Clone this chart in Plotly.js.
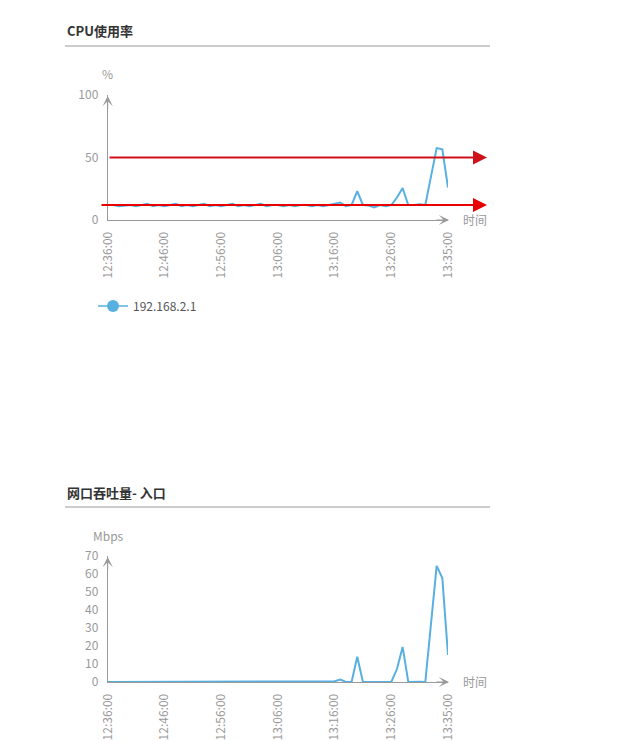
<!DOCTYPE html>
<html>
<head>
<meta charset="utf-8">
<script src="https://cdn.plot.ly/plotly-3.0.1.min.js"></script>
<style>
  html, body { margin: 0; padding: 0; background: #fff; }
  #chart { width: 626px; height: 741px; }
</style>
</head>
<body>
<div id="chart"></div>
<script>
// x axis labels (one sample per step, labels every 10th sample)
const tickLabels = ["12:36:00", "12:46:00", "12:56:00", "13:06:00", "13:16:00", "13:26:00", "13:35:00"];
const tickAt = [0, 10, 20, 30, 40, 50, 60];

const hostName = "192.168.2.1";

// CPU usage, %
const cpuValues = [
  12, 12, 11, 11.5, 12, 11, 12, 13, 11, 12,
  11, 12, 13, 11, 12, 11, 12, 13, 11, 12,
  11, 12, 13, 11, 12, 11, 12, 13, 11, 12,
  12, 11, 12, 11, 12, 12, 11, 12, 11, 12,
  12.5, 14, 11, 12, 23, 12, 11.5, 10, 12, 11,
  12, 18, 25.5, 12, 12, 12.5, 12, 35, 57.5, 56.5,
  26
];
// alarm lines on the CPU chart
const cpuThresholds = [50, 12];

// network throughput in, Mbps
const netValues = [
  0, 0, 0, 0, 0.2, 0, 0, 0, 0, 0,
  0, 0, 0, 0, 0, 0, 0.2, 0, 0, 0,
  0, 0, 0, 0, 0, 0, 0, 0, 0, 0,
  0, 0, 0, 0, 0, 0, 0, 0, 0, 0,
  0.4, 1.4, 0, 0, 14, 0, 0, 0, 0, 0,
  0, 7.2, 19.5, 0, 0.2, 0.2, 0, 32, 64.5, 57.8,
  15
];

const W = 626, H = 741;
const px = v => v / W;          // page px -> paper x
const py = v => 1 - v / H;      // page px -> paper y

const FONT = "'Microsoft YaHei', 'Noto Sans CJK SC', sans-serif";
const BLUE = "#58b0e1";
const GREY = "#999";

function xAxisCfg(anchor) {
  return {
    domain: [px(107.7), px(448)], anchor: anchor, range: [0, 60],
    showline: true, linecolor: GREY, linewidth: 1, ticks: "",
    tickmode: "array", tickvals: tickAt, ticktext: tickLabels, tickangle: -90,
    tickfont: {size: 12, color: GREY}, ticklabelstandoff: 6,
    showgrid: false, zeroline: false, fixedrange: true
  };
}
function yAxisCfg(anchor, top, bottom, max, vals) {
  return {
    domain: [py(bottom), py(top)], anchor: anchor, range: [0, max],
    showline: true, linecolor: GREY, linewidth: 1, ticks: "",
    tickmode: "array", tickvals: vals,
    tickfont: {size: 12, color: GREY}, ticklabelstandoff: 6,
    showgrid: false, zeroline: false, fixedrange: true
  };
}

const data = [
  {y: cpuValues, xaxis: "x", yaxis: "y", mode: "lines", cliponaxis: false,
   line: {color: BLUE, width: 2}, showlegend: false, hoverinfo: "skip"},
  {y: netValues, xaxis: "x2", yaxis: "y2", mode: "lines", cliponaxis: false,
   line: {color: BLUE, width: 2}, showlegend: false, hoverinfo: "skip"},
  // legend entry only
  {x: [null], y: [null], xaxis: "x", yaxis: "y", mode: "lines+markers", name: hostName,
   line: {color: BLUE, width: 1.5}, marker: {color: BLUE, size: 12}}
];

function label(text, x, y, opts) {
  return Object.assign({text: text, xref: "paper", yref: "paper", x: px(x), y: py(y),
    xanchor: "center", yanchor: "middle", showarrow: false,
    font: {size: 12, color: GREY, family: FONT}}, opts || {});
}
function axisArrow(x, y, ax, ay) {
  return {text: "", xref: "paper", yref: "paper", x: px(x), y: py(y), ax: ax, ay: ay,
    showarrow: true, arrowhead: 3, arrowsize: 1.7, arrowwidth: 1, arrowcolor: GREY, standoff: 0};
}

const annotations = [
  label("<b>CPU使用率</b>", 65, 31, {xanchor: "left", font: {size: 13, color: "#333", family: FONT}}),
  label("<b>网口吞吐量- 入口</b>", 65, 492, {xanchor: "left", font: {size: 13, color: "#333", family: FONT}}),
  label("%", 107, 73),
  label("时间", 475, 219),
  label("Mbps", 108, 535),
  label("时间", 475, 681),
  axisArrow(107.7, 96, 0, 14),
  axisArrow(449, 220, -14, 0),
  axisArrow(107.7, 557, 0, 14),
  axisArrow(449, 682, -14, 0)
];

// red alarm lines with arrow heads
const redStarts = [108, 100];
const redColors = ["#d01018", "#e80000"];
cpuThresholds.forEach((t, i) => {
  annotations.push({text: "", xref: "paper", yref: "y", x: px(487), y: t,
    ax: -(487 - redStarts[i]), ay: 0, showarrow: true, arrowhead: 2,
    arrowsize: 1.4, arrowwidth: 2, arrowcolor: redColors[i], standoff: 0});
});

const layout = {
  width: W, height: H,
  margin: {l: 0, r: 0, t: 0, b: 0},
  paper_bgcolor: "#fff", plot_bgcolor: "rgba(0,0,0,0)",
  font: {family: FONT, size: 12, color: "#555"},
  xaxis: xAxisCfg("y"),
  yaxis: yAxisCfg("x", 95, 220, 100, [0, 50, 100]),
  xaxis2: xAxisCfg("y2"),
  yaxis2: yAxisCfg("x2", 556, 682, 70, [0, 10, 20, 30, 40, 50, 60, 70]),
  showlegend: true,
  legend: {orientation: "h", x: px(93), y: py(306), xanchor: "left", yanchor: "middle",
    font: {size: 12, color: "#555", family: FONT}, bgcolor: "rgba(0,0,0,0)"},
  shapes: [
    {type: "line", xref: "paper", yref: "paper", x0: px(65), x1: px(490), y0: py(46), y1: py(46),
     line: {color: "#999", width: 1}},
    {type: "line", xref: "paper", yref: "paper", x0: px(65), x1: px(490), y0: py(507), y1: py(507),
     line: {color: "#999", width: 1}}
  ],
  annotations: annotations
};

Plotly.newPlot("chart", data, layout, {displayModeBar: false, staticPlot: true});
</script>
</body>
</html>
